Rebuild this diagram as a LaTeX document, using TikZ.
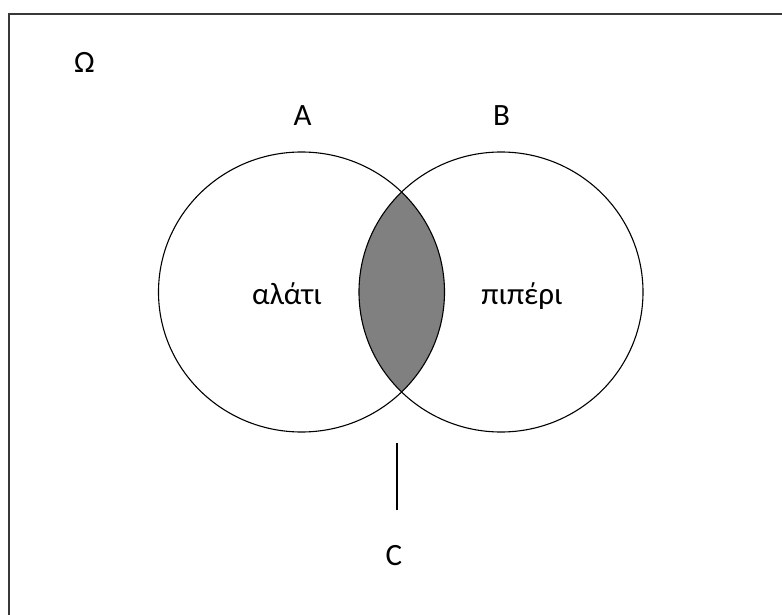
\documentclass[tikz,border=0pt]{standalone}
\usepackage{fontspec}
\setmainfont{Carlito}
\begin{document}
\begin{tikzpicture}[x=1pt,y=-1pt,
  lbl/.style={inner sep=0pt,font=\fontsize{31}{35}\selectfont},
  setline/.style={line width=1.1pt,black},
  frame/.style={line width=2.6pt,black!78}]
\useasboundingbox (0,0) rectangle (782,615);
\coordinate (cA) at (301.5,292);
\coordinate (cB) at (501,292);
\coordinate (fTL) at (9,14);
\coordinate (fTR) at (783,14);
\coordinate (fBL) at (9,616);
% lens
\begin{scope}
  \clip (cA) ellipse [x radius=143, y radius=140];
  \fill[black!50] (cB) ellipse [x radius=142, y radius=140];
\end{scope}
\draw[setline] (cA) ellipse [x radius=143, y radius=140];
\draw[setline] (cB) ellipse [x radius=142, y radius=140];
% frame
\draw[frame] (fTR) -- (fTL) -- (fBL);
% labels
\node[lbl] (om) at (84.5,62) {Ω};
\node[lbl] (a) at (302.5,116) {A};
\node[lbl] (b) at (501.5,116) {B};
\node[lbl,anchor=base] (salt) at (287,304) {αλάτι};
\node[lbl,anchor=base] (pep) at (522,304) {πιπέρι};
\node[lbl] (c) at (394,556) {C};
\coordinate (l1) at (397,443);
\coordinate (l2) at (397,510);
\draw[setline] (l1) -- (l2);
\end{tikzpicture}
\end{document}
